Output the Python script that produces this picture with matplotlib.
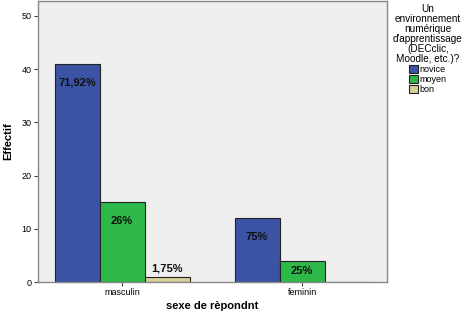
import numpy as np
import matplotlib.pyplot as plt

plt.rcParams['font.family'] = ['Liberation Sans', 'DejaVu Sans']

groups = ["masculin", "feminin"]
levels = ["novice", "moyen", "bon"]
counts = {
    "novice": [41, 12],
    "moyen": [15, 4],
    "bon": [1, 0],
}
pct_labels = {
    "novice": ["71,92%", "75%"],
    "moyen": ["26%", "25%"],
    "bon": ["1,75%", ""],
}
colors = {"novice": "#3a53a4", "moyen": "#2fb84a", "bon": "#d6d09a"}
legend_title = "Un\nenvironnement\nnumérique\nd'apprentissage\n(DECclic,\nMoodle, etc.)?"


def label_y(v):
    # where SPSS puts the data label for a bar of height v
    if v >= 10:
        return v - 3.6
    if v >= 2:
        return v / 2
    return v + 1.6


fig = plt.figure(figsize=(4.67, 3.13), dpi=100)
ax = fig.add_axes([0.0814, 0.099, 0.7473, 0.898])
ax.set_facecolor("#efefef")

x = np.arange(len(groups))
w = 0.25
handles = []
for i, lev in enumerate(levels):
    off = (i - 1) * w
    vals = counts[lev]
    bars = ax.bar(x + off, vals, w, color=colors[lev], edgecolor="#222222",
                  linewidth=0.8, label=lev)
    handles.append(bars)
    for xi, v, txt in zip(x, vals, pct_labels[lev]):
        if v > 0 and txt:
            ax.text(xi + off, label_y(v), txt, ha="center", va="center",
                    fontsize=8, fontweight="bold", color="#111111")

ax.set_xlim(-0.467, 1.472)
ax.set_ylim(0, 52.8)
ax.set_yticks([0, 10, 20, 30, 40, 50])
ax.set_xticks(x)
ax.set_xticklabels(groups)
ax.tick_params(axis="both", labelsize=6.5, length=3, width=0.8,
               color="#444444", pad=1.5)
for s in ax.spines.values():
    s.set_color("#888888")
    s.set_linewidth(1.0)

ax.set_ylabel("Effectif", fontsize=8, fontweight="bold", labelpad=6)
ax.set_xlabel("sexe de rèpondnt", fontsize=8, fontweight="bold", labelpad=3)

leg = fig.legend(handles=handles, labels=levels, title=legend_title,
                 loc="upper left", bbox_to_anchor=(0.83, 1.005),
                 frameon=False, fontsize=6.5, title_fontsize=7.2,
                 handlelength=1.0, handleheight=1.0, handletextpad=0.2,
                 labelspacing=0.1, borderaxespad=0.2)
leg.get_title().set_multialignment("center")
leg.get_title().set_linespacing(1.0)
leg._legend_box.align = "center"

fig.savefig("out.png", dpi=100)
